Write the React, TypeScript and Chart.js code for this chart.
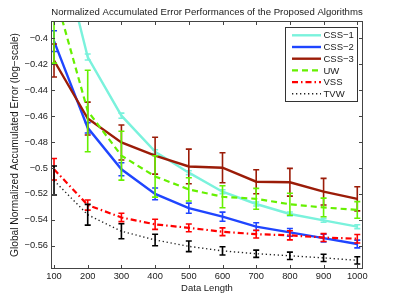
import React, { useEffect, useRef } from "react";
import { Chart, registerables } from "chart.js";

Chart.register(...registerables);

// ---------- data ----------
const chartTitle = "Normalized Accumulated Error Performances of the Proposed Algorithms";
const dataLengths = [100, 200, 300, 400, 500, 600, 700, 800, 900, 1000];
const xTickValues = [100, 200, 300, 400, 500, 600, 700, 800, 900, 1000];
const yTickValues = [-0.56, -0.54, -0.52, -0.5, -0.48, -0.46, -0.44, -0.42, -0.4];

const css1 = [-0.31, -0.4143, -0.4596, -0.4874, -0.5036, -0.5183, -0.5278, -0.5355, -0.5404, -0.5453];
const css1Err = [0.002, 0.0023, 0.002, 0.0015, 0.0015, 0.0015, 0.0015, 0.0015, 0.0015, 0.0015];

const css2 = [-0.402, -0.469, -0.501, -0.52, -0.531, -0.5376, -0.5453, -0.5497, -0.5541, -0.5587];
const css2Err = [0.008, 0.004, 0.005, 0.0045, 0.0039, 0.0035, 0.003, 0.003, 0.003, 0.003];

const css3 = [-0.417, -0.4618, -0.4803, -0.4905, -0.4988, -0.4998, -0.5106, -0.511, -0.5183, -0.5238];
const css3Err = [0.0127, 0.0127, 0.0135, 0.0142, 0.0134, 0.0116, 0.0093, 0.0107, 0.0103, 0.0093];

const uw = [-0.363, -0.456, -0.4905, -0.5065, -0.5165, -0.5222, -0.5238, -0.528, -0.5305, -0.5324];
const uwErr = [0.056, 0.0315, 0.0189, 0.016, 0.009, 0.0085, 0.0081, 0.0085, 0.0072, 0.0064];

const vss = [-0.501, -0.5286, -0.5382, -0.5435, -0.5462, -0.5492, -0.5511, -0.552, -0.5537, -0.5546];
const vssErr = [0.0083, 0.0039, 0.0032, 0.0039, 0.003, 0.003, 0.003, 0.0035, 0.003, 0.0033];

const tvw = [-0.5097, -0.5361, -0.5488, -0.5556, -0.5605, -0.564, -0.5662, -0.5678, -0.5694, -0.5713];
const tvwErr = [0.0112, 0.008, 0.0058, 0.0044, 0.0041, 0.0032, 0.0028, 0.0028, 0.0028, 0.0028];

const seriesLabels = ["CSS−1", "CSS−2", "CSS−3", "UW", "VSS", "TVW"];
const seriesValues = [css1, css2, css3, uw, vss, tvw];
const seriesErrors = [css1Err, css2Err, css3Err, uwErr, vssErr, tvwErr];

// ---------- styles ----------
const seriesStyles = [
  { color: "#7af2dc", dash: [] as number[], width: 2.4 },
  { color: "#1f45ff", dash: [] as number[], width: 2.4 },
  { color: "#9b1c08", dash: [] as number[], width: 2.4 },
  { color: "#66f000", dash: [6, 4], width: 2.2 },
  { color: "#ff0000", dash: [6, 3, 1.5, 3], width: 2.2 },
  { color: "#222222", dash: [1.3, 2.7], width: 1.4 },
];

const FONT = "'Liberation Sans', Arial, Helvetica, sans-serif";
const AXIS_COLOR = "#444444";
const TEXT_COLOR = "#1a1a1a";

const fmt = (v: number) => String(v).replace("-", "−");

const decorPlugin = {
  id: "decor",
  afterDatasetDraw(chart: any, args: any) {
    const ds = chart.data.datasets[args.index];
    const errs: number[] = ds.errors;
    if (!errs) return;
    const { ctx, chartArea: a } = chart;
    const x = chart.scales.x;
    const y = chart.scales.y;
    ctx.save();
    ctx.beginPath();
    ctx.rect(a.left, a.top, a.right - a.left, a.bottom - a.top);
    ctx.clip();
    ctx.strokeStyle = ds.errorColor || ds.borderColor;
    ctx.lineWidth = 1.6;
    ctx.setLineDash([]);
    ds.data.forEach((p: any, i: number) => {
      const px = x.getPixelForValue(p.x);
      const top = y.getPixelForValue(p.y + errs[i]);
      const bot = y.getPixelForValue(p.y - errs[i]);
      ctx.beginPath();
      ctx.moveTo(px, top);
      ctx.lineTo(px, bot);
      ctx.moveTo(px - 3, top);
      ctx.lineTo(px + 3, top);
      ctx.moveTo(px - 3, bot);
      ctx.lineTo(px + 3, bot);
      ctx.stroke();
    });
    ctx.restore();
  },
  afterDraw(chart: any) {
    const { ctx, chartArea: a } = chart;
    const x = chart.scales.x;
    const y = chart.scales.y;
    ctx.save();
    // title centred over the plot area
    ctx.fillStyle = TEXT_COLOR;
    ctx.font = `9.6px ${FONT}`;
    ctx.textAlign = "center";
    ctx.textBaseline = "middle";
    ctx.fillText(chartTitle, (a.left + a.right) / 2, 12.7);

    // frame
    ctx.strokeStyle = AXIS_COLOR;
    ctx.lineWidth = 1;
    ctx.setLineDash([]);
    ctx.strokeRect(a.left - 0.5, a.top - 0.5, a.right - a.left + 1, a.bottom - a.top + 1);
    // inward ticks
    const tl = 3;
    ctx.beginPath();
    x.ticks.forEach((t: any) => {
      const px = Math.round(x.getPixelForValue(t.value)) + 0.5;
      ctx.moveTo(px, a.bottom);
      ctx.lineTo(px, a.bottom - tl);
      ctx.moveTo(px, a.top);
      ctx.lineTo(px, a.top + tl);
    });
    y.ticks.forEach((t: any) => {
      const py = Math.round(y.getPixelForValue(t.value)) + 0.5;
      ctx.moveTo(a.left, py);
      ctx.lineTo(a.left + tl, py);
      ctx.moveTo(a.right, py);
      ctx.lineTo(a.right - tl, py);
    });
    ctx.stroke();

    // legend
    const bw = 72;
    const bh = 74;
    const bx = Math.round(a.right - 5 - bw) + 0.5;
    const by = Math.round(a.top + 5) + 0.5;
    ctx.fillStyle = "#ffffff";
    ctx.fillRect(bx, by, bw, bh);
    ctx.strokeStyle = "#333333";
    ctx.lineWidth = 1;
    ctx.strokeRect(bx, by, bw, bh);
    ctx.font = `9.5px ${FONT}`;
    ctx.textBaseline = "middle";
    ctx.textAlign = "left";
    chart.data.datasets.forEach((ds: any, i: number) => {
      const ry = by + 7.8 + i * 11.7;
      ctx.beginPath();
      ctx.strokeStyle = ds.borderColor;
      ctx.lineWidth = ds.borderWidth;
      ctx.setLineDash(ds.borderDash || []);
      ctx.moveTo(bx + 6.5, ry);
      ctx.lineTo(bx + 35.5, ry);
      ctx.stroke();
      ctx.setLineDash([]);
      ctx.fillStyle = TEXT_COLOR;
      ctx.fillText(ds.label, bx + 38, ry + 0.5);
    });
    ctx.restore();
  },
};

export default function App() {
  const canvasRef = useRef<HTMLCanvasElement | null>(null);

  useEffect(() => {
    const canvas = canvasRef.current;
    if (!canvas) return;
    const datasets = seriesLabels.map((label, i) => ({
      label,
      data: dataLengths.map((d, j) => ({ x: d, y: seriesValues[i][j] })),
      errors: seriesErrors[i],
      errorColor: i === 5 ? "#000000" : seriesStyles[i].color,
      borderColor: seriesStyles[i].color,
      backgroundColor: seriesStyles[i].color,
      borderWidth: seriesStyles[i].width,
      borderDash: seriesStyles[i].dash,
      pointRadius: 0,
      tension: 0,
      order: 5 - i,
    }));

    const chart = new Chart(canvas, {
      type: "line",
      data: { datasets } as any,
      plugins: [decorPlugin as any],
      options: {
        animation: false,
        responsive: false,
        maintainAspectRatio: false,
        devicePixelRatio: 1,
        layout: { padding: { left: 0, right: 37, top: 22, bottom: 0 } },
        plugins: {
          legend: { display: false },
          tooltip: { enabled: false },
          title: { display: false },
        },
        scales: {
          x: {
            type: "linear",
            min: 94,
            max: 1014,
            grid: { display: false, drawTicks: false },
            border: { display: false },
            afterBuildTicks: (scale: any) => {
              scale.ticks = xTickValues.map((v) => ({ value: v }));
            },
            afterFit: (scale: any) => {
              scale.height = 34;
            },
            ticks: {
              color: TEXT_COLOR,
              font: { family: FONT, size: 9.3 },
              padding: 3,
              maxRotation: 0,
              autoSkip: false,
              callback: (v: any) => String(v),
            },
            title: {
              display: true,
              text: "Data Length",
              color: TEXT_COLOR,
              font: { family: FONT, size: 9.5 },
              padding: { top: 0, bottom: 7.7 },
            },
          },
          y: {
            type: "linear",
            min: -0.57722,
            max: -0.38726,
            grid: { display: false, drawTicks: false },
            border: { display: false },
            afterBuildTicks: (scale: any) => {
              scale.ticks = yTickValues.map((v) => ({ value: v }));
            },
            afterFit: (scale: any) => {
              scale.width = 52;
            },
            ticks: {
              color: TEXT_COLOR,
              font: { family: FONT, size: 9.3 },
              padding: 4,
              autoSkip: false,
              callback: (v: any) => fmt(Number(v)),
            },
            title: {
              display: true,
              text: "Global Normalized Accumulated Error (log−scale)",
              color: TEXT_COLOR,
              font: { family: FONT, size: 10.2 },
              padding: { top: 8.9, bottom: 0 },
            },
          },
        },
      } as any,
    });
    return () => chart.destroy();
  }, []);

  return (
    <div style={{ position: "absolute", left: 0, top: 0, width: 399, height: 302, background: "#fff" }}>
      <canvas ref={canvasRef} width={399} height={302} style={{ display: "block", width: 399, height: 302 }} />
    </div>
  );
}
